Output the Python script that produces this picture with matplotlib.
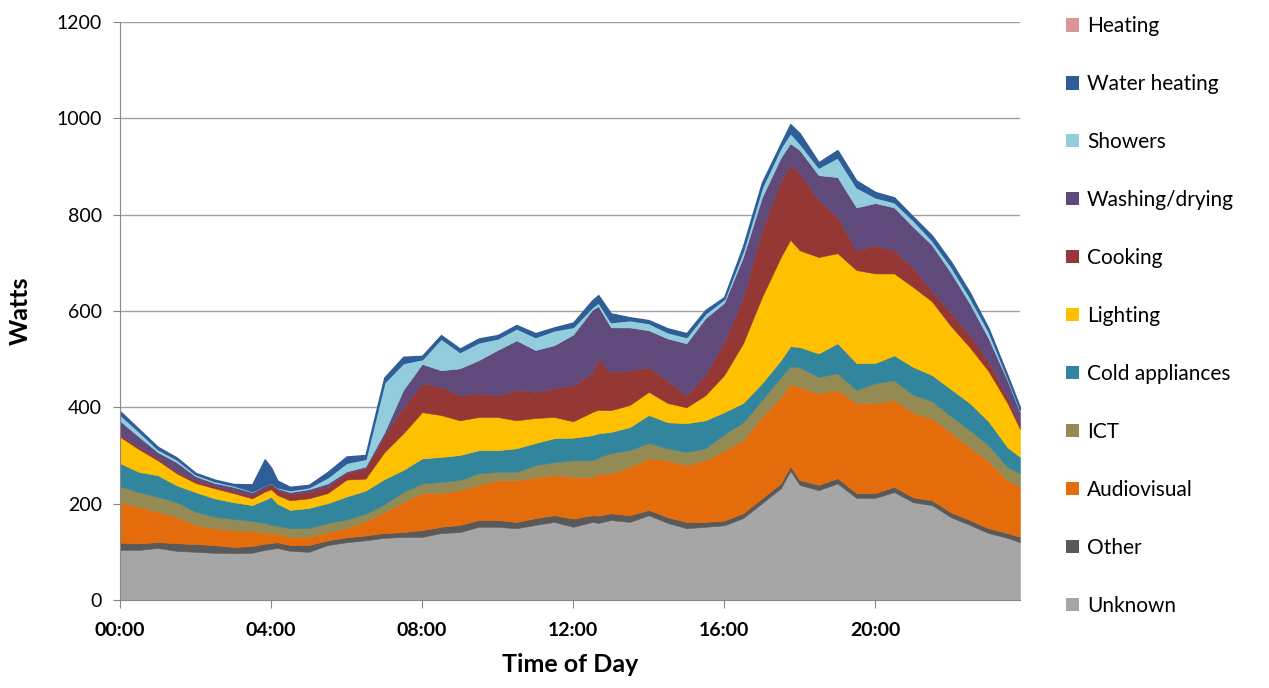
import matplotlib.pyplot as plt
import numpy as np

plt.rcParams['font.family'] = ['Lato', 'DejaVu Sans']

# time of each reading (HH:MM)
times = ["00:00", "00:30", "01:00", "01:30", "02:00", "02:30", "03:00", "03:30",
         "03:50", "04:00", "04:10",
         "04:30", "05:00", "05:30", "06:00", "06:30", "07:00", "07:30", "08:00",
         "08:30", "09:00", "09:30", "10:00", "10:30", "11:00", "11:30", "12:00", "12:30",
         "12:40",
         "13:00", "13:30", "14:00", "14:30", "15:00", "15:30", "16:00", "16:30", "17:00", "17:30",
         "17:45",
         "18:00", "18:30", "19:00", "19:30", "20:00", "20:30", "21:00", "21:30", "22:00",
         "22:30", "23:00", "23:30",
         "23:50"]

unknown = [104, 104, 108, 102, 100, 98, 97, 98, 104, 106, 108,
           102, 100, 114, 120, 124, 129, 131, 131, 139, 141, 152, 152, 149, 156, 162, 152, 162,
           160,
           166, 162, 176, 160, 149, 152, 155, 170, 201, 232,
           268,
           239, 228, 242, 212, 212, 224, 203, 197, 172, 156, 139, 129,
           120]
other = [15, 14, 12, 16, 16, 16, 13, 14, 13, 12, 12,
         12, 14, 10, 10, 10, 10, 10, 14, 13, 15, 14, 14, 13, 14, 14, 17, 14,
         15,
         14, 14, 11, 12, 13, 10, 10, 10, 10, 10,
         10,
         10, 11, 11, 10, 10, 11, 10, 10, 10, 10, 10, 10,
         11]
audiovisual = [84, 75, 63, 54, 40, 35, 35, 31, 23, 21, 18,
               17, 17, 17, 20, 29, 43, 62, 77, 70, 72, 73, 83, 87, 85, 83, 87, 79,
               87,
               83, 100, 107, 118, 118, 128, 145, 152, 169, 179,
               170,
               193, 190, 183, 187, 187, 180, 176, 170, 166, 151, 139, 110,
               104]
ict = [33, 31, 31, 31, 27, 24, 23, 21, 20, 17, 16,
       18, 18, 19, 17, 16, 17, 21, 20, 23, 21, 24, 17, 17, 25, 27, 34, 35,
       34,
       42, 35, 32, 25, 27, 25, 34, 37, 35, 42,
       37,
       41, 34, 35, 27, 41, 41, 37, 36, 34, 36, 33, 27,
       28]
cold = [48, 42, 45, 35, 41, 38, 35, 33, 48, 58, 46,
        38, 42, 41, 48, 48, 52, 46, 52, 52, 52, 48, 45, 49, 46, 50, 47, 52,
        50,
        44, 48, 58, 54, 60, 58, 46, 40, 35, 35,
        42,
        42, 49, 62, 56, 42, 52, 58, 54, 56, 56, 50, 41,
        34]
lighting = [55, 47, 31, 25, 19, 21, 19, 14, 17, 16, 18,
            20, 20, 21, 35, 25, 56, 76, 96, 87, 72, 69, 69, 58, 52, 44, 34, 48,
            49,
            45, 46, 48, 40, 33, 52, 77, 124, 179, 214,
            221,
            201, 200, 187, 193, 186, 170, 166, 153, 131, 116, 104, 92,
            58]
cooking = [4, 5, 5, 3, 6, 5, 4, 7, 8, 9, 10,
           13, 13, 13, 14, 21, 34, 54, 60, 58, 52, 49, 45, 63, 54, 60, 75, 81,
           105,
           79, 72, 51, 47, 25, 42, 69, 96, 139, 159,
           155,
           160, 118, 75, 41, 58, 48, 40, 21, 28, 25, 21, 12,
           10]
washing = [29, 21, 12, 20, 8, 6, 9, 6, 4, 3, 4,
           4, 6, 7, 3, 4, 7, 36, 40, 35, 56, 69, 94, 103, 87, 89, 105, 131,
           110,
           93, 89, 77, 87, 108, 118, 81, 83, 68, 48,
           45,
           48, 52, 83, 89, 88, 89, 85, 96, 83, 66, 47, 35,
           25]
showers = [13, 11, 6, 6, 4, 4, 3, 2, 1, 1, 2,
           4, 4, 13, 18, 16, 104, 56, 10, 66, 34, 37, 24, 25, 27, 31, 16, 6,
           8,
           11, 15, 15, 13, 13, 10, 8, 14, 21, 21,
           22,
           14, 16, 41, 42, 12, 11, 14, 10, 13, 13, 15, 6,
           5]
water_heating = [7, 5, 5, 4, 3, 3, 3, 14, 54, 32, 14,
                 7, 5, 11, 13, 8, 10, 13, 7, 7, 7, 8, 7, 7, 8, 6, 9, 14,
                 15,
                 18, 6, 6, 8, 8, 7, 4, 9, 10, 8,
                 18,
                 21, 11, 15, 14, 11, 10, 7, 10, 10, 10, 6, 5,
                 5]
heating = [0] * len(times)

labels = ["Unknown", "Other", "Audiovisual", "ICT", "Cold appliances", "Lighting",
          "Cooking", "Washing/drying", "Showers", "Water heating", "Heating"]
colors = ["#A6A6A6", "#595959", "#E46C0A", "#948A54", "#31859C", "#FFC000",
          "#953735", "#604A7B", "#93CDDD", "#2F5D97", "#D99694"]

hours = [int(t[:2]) + int(t[3:]) / 60 for t in times]

fig = plt.figure(figsize=(12.69, 6.88), dpi=100)
ax = fig.add_axes([120 / 1269, 1 - 600 / 688, 900 / 1269, 578 / 688])

polys = ax.stackplot(hours, unknown, other, audiovisual, ict, cold, lighting, cooking,
                     washing, showers, water_heating, heating,
                     labels=labels, colors=colors, edgecolor="face", linewidth=0.4)
# heating is flat zero, keep its edge from drawing a pink line on top
polys[-1].set_linewidth(0)
# dark outline along the top like the original
polys[-2].set_edgecolor("#2F5D97")
polys[-2].set_linewidth(1.0)

ax.set_xlim(0, hours[-1])
ax.set_ylim(0, 1200)
ax.set_yticks(np.arange(0, 1201, 200))
ax.set_xticks([0, 4, 8, 12, 16, 20])
ax.set_xticklabels(["00:00", "04:00", "08:00", "12:00", "16:00", "20:00"],
                   fontweight="bold", fontsize=14)
ax.tick_params(axis="y", labelsize=14, length=5, color="#888888", pad=8)
ax.tick_params(axis="x", length=6, color="#888888", pad=10)
ax.yaxis.grid(True, color="#A0A0A0", linewidth=1)
ax.set_axisbelow(True)
for s in ["top", "right"]:
    ax.spines[s].set_visible(False)
for s in ["left", "bottom"]:
    ax.spines[s].set_color("#888888")

ax.set_ylabel("Watts", fontsize=18, fontweight="bold", labelpad=18)
ax.set_xlabel("Time of Day", fontsize=18, fontweight="bold", labelpad=10)

handles = polys[::-1]
leg = fig.legend(handles, labels[::-1], loc="upper left",
                 bbox_to_anchor=(1058 / 1269, 1 - 8 / 688),
                 frameon=False, fontsize=15, handlelength=0.6, handleheight=0.6,
                 handletextpad=0.4, labelspacing=1.82, borderaxespad=0)
for h in leg.legend_handles:
    h.set_linewidth(0)

fig.savefig("out.png", dpi=100)
